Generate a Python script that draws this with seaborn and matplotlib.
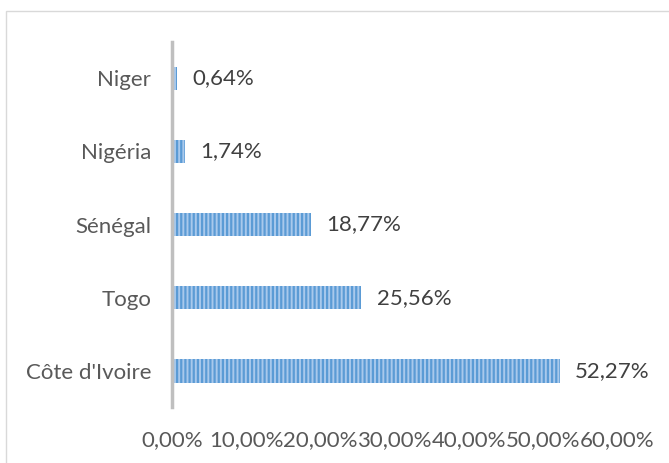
import matplotlib
matplotlib.use("Agg")
import matplotlib.pyplot as plt
import seaborn as sns
import pandas as pd
from matplotlib.patches import Rectangle
from matplotlib.ticker import FuncFormatter

sns.set_theme(style="white")
plt.rcParams['font.family'] = ['Lato', 'DejaVu Sans']
plt.rcParams['hatch.linewidth'] = 1.6
plt.rcParams['hatch.color'] = '#5b9bd5'

# donnees
pays = ["Niger", "Nigéria", "Sénégal", "Togo", "Côte d'Ivoire"]
parts = [0.64, 1.74, 18.77, 25.56, 52.27]
etiquettes = ["0,64%", "1,74%", "18,77%", "25,56%", "52,27%"]
ticks = [0, 10, 20, 30, 40, 50, 60]

df = pd.DataFrame({"pays": pays, "part": parts})

fig = plt.figure(figsize=(6.69, 4.63), dpi=100)
# cadre du graphique
fig.patches.append(Rectangle((6/669, -0.2), 1.2, 1.2 - 11/463,
                             transform=fig.transFigure, fill=False,
                             edgecolor='#d9d9d9', linewidth=1.0))
ax = fig.add_axes([0.257, 0.12, 0.665, 0.79])

sns.barplot(data=df, x="part", y="pays", orient="h", ax=ax, width=0.32,
            color='#a9c9ec', edgecolor='#5b9bd5', linewidth=0, hatch='||||',
            saturation=1)

for i, (v, t) in enumerate(zip(parts, etiquettes)):
    ax.annotate(t, (v, i), xytext=(11, 0), textcoords='offset points',
                va='center', ha='left', fontsize=16, color='#404040')

ax.set_xlim(0, 60)
ax.set_ylim(4.5, -0.5)
ax.set_xticks(ticks)
ax.xaxis.set_major_formatter(FuncFormatter(lambda v, p: f"{v:.2f}".replace('.', ',') + "%"))
ax.set_xlabel("")
ax.set_ylabel("")
ax.tick_params(axis='x', length=0, pad=16, labelsize=16, labelcolor='#595959')
ax.tick_params(axis='y', length=0, pad=15, labelsize=16, labelcolor='#595959')
for s in ['top', 'right', 'bottom']:
    ax.spines[s].set_visible(False)
ax.spines['left'].set_color('#bfbfbf')
ax.spines['left'].set_linewidth(2.5)

fig.savefig("out.png", dpi=100)
